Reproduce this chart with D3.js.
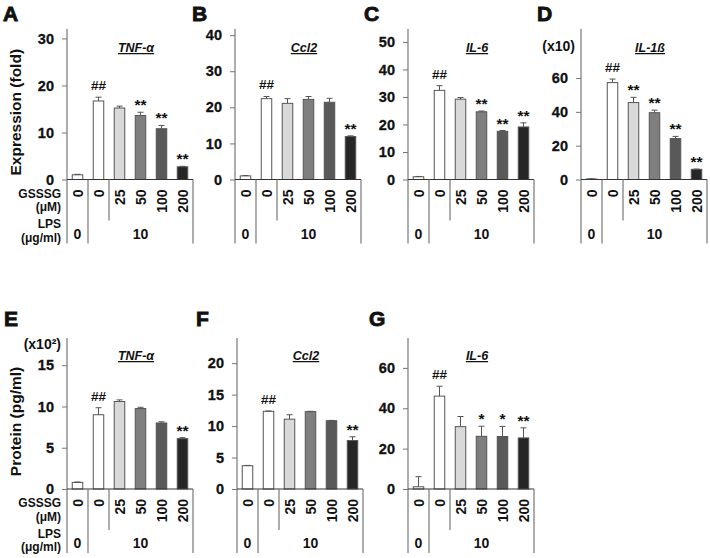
<!DOCTYPE html>
<html><head><meta charset="utf-8">
<script src="https://cdn.jsdelivr.net/npm/d3@7"></script>
<style>
body{margin:0;background:#fff}
text{font-family:"Liberation Sans",Arial,sans-serif;font-weight:bold;fill:#111}
</style>
</head><body>
<svg id="c" width="710" height="558"></svg>
<script>
// ---------- data ----------
const gsssg = ["0", "0", "25", "50", "100", "200"];
const lpsLabels = ["0", "10"];
const barColors = ["#ffffff", "#ffffff", "#d9d9d9", "#7f7f7f", "#595959", "#262626"];

const tnfMean  = [1.0, 16.7, 15.2, 13.6, 10.8, 2.7];
const tnfErr   = [0.1, 0.8, 0.4, 0.7, 0.7, 0.1];
const tnfSig   = ["", "##", "", "**", "**", "**"];
const tnfTicks = [0, 10, 20, 30];

const ccl2Mean  = [1.0, 22.4, 21.1, 22.2, 21.4, 11.9];
const ccl2Err   = [0.1, 0.6, 1.3, 0.8, 1.1, 0.2];
const ccl2Sig   = ["", "##", "", "", "", "**"];
const ccl2Ticks = [0, 10, 20, 30, 40];

const il6Mean  = [1.0, 32.4, 29.2, 24.6, 17.5, 19.1];
const il6Err   = [0.1, 1.7, 0.6, 0.3, 0.3, 1.5];
const il6Sig   = ["", "##", "", "**", "**", "**"];
const il6Ticks = [0, 10, 20, 30, 40, 50];

const il1bMean  = [0.3, 57.3, 45.5, 39.5, 24.2, 6.0];
const il1bErr   = [0.1, 2.1, 3.1, 1.5, 1.3, 0.2];
const il1bSig   = ["", "##", "**", "**", "**", "**"];
const il1bTicks = [0, 20, 40, 60];

const tnfProtMean  = [0.8, 9.0, 10.6, 9.75, 8.0, 6.1];
const tnfProtErr   = [0.05, 0.85, 0.2, 0.15, 0.15, 0.12];
const tnfProtSig   = ["", "##", "", "", "", "**"];
const tnfProtTicks = [0, 5, 10, 15];

const ccl2ProtMean  = [3.7, 12.35, 11.1, 12.3, 10.85, 7.7];
const ccl2ProtErr   = [0.05, 0.05, 0.7, 0.05, 0.05, 0.6];
const ccl2ProtSig   = ["", "##", "", "", "", "**"];
const ccl2ProtTicks = [0, 5, 10, 15, 20];

const il6ProtMean  = [1.1, 46.0, 30.9, 26.1, 26.0, 25.3];
const il6ProtErr   = [5.0, 4.9, 5.0, 5.0, 5.0, 5.0];
const il6ProtSig   = ["", "##", "", "*", "*", "**"];
const il6ProtTicks = [0, 20, 40, 60];

// ---------- layout ----------
const rows = [
  {y0: 179.5, top: 29, letterY: 21, titleY: 52},
  {y0: 489, top: 338, letterY: 326, titleY: 360}
];
const panels = [
  {letter:"A", lx:3,   gene:"TNF-α", mean:tnfMean, err:tnfErr, sig:tnfSig, ticks:tnfTicks, max:32, ax:67, row:0, ylabel:"Expression (fold)", rowLabels:true},
  {letter:"B", lx:192, gene:"Ccl2", mean:ccl2Mean, err:ccl2Err, sig:ccl2Sig, ticks:ccl2Ticks, max:41.7, ax:235, row:0},
  {letter:"C", lx:364, gene:"IL-6", mean:il6Mean, err:il6Err, sig:il6Sig, ticks:il6Ticks, max:54.7, ax:408, row:0},
  {letter:"D", lx:537, gene:"IL-1ß", mean:il1bMean, err:il1bErr, sig:il1bSig, ticks:il1bTicks, max:89, ax:581, row:0, unit:"(x10)", unitY:51},
  {letter:"E", lx:4,   gene:"TNF-α", mean:tnfProtMean, err:tnfProtErr, sig:tnfProtSig, ticks:tnfProtTicks, max:18.3, ax:67, row:1, ylabel:"Protein (pg/ml)", rowLabels:true, unit:"(x10²)", unitY:349},
  {letter:"F", lx:196, gene:"Ccl2", mean:ccl2ProtMean, err:ccl2ProtErr, sig:ccl2ProtSig, ticks:ccl2ProtTicks, max:24, ax:237, row:1},
  {letter:"G", lx:369, gene:"IL-6", mean:il6ProtMean, err:il6ProtErr, sig:il6ProtSig, ticks:il6ProtTicks, max:74.8, ax:408, row:1}
];
const plotW = 126, tableH = 64, midH = 41;

const svg = d3.select("#c");

panels.forEach(p => {
  const r = rows[p.row];
  const g = svg.append("g");
  const idx = d3.range(gsssg.length);
  const x = d3.scaleBand().domain(idx).range([p.ax, p.ax + plotW]).paddingInner(0.5).paddingOuter(0.25);
  const y = d3.scaleLinear().domain([0, p.max]).range([r.y0, r.top]);

  // panel letter
  g.append("text").attr("x", p.lx).attr("y", r.letterY).text(p.letter)
    .style("font-size", "21px").style("stroke", "#111").style("stroke-width", "0.9px");

  // y axis
  const yAxis = d3.axisLeft(y).tickValues(p.ticks).tickSize(5).tickPadding(8).tickFormat(d3.format("d"));
  const ag = g.append("g").attr("transform", `translate(${p.ax},0)`).call(yAxis);
  ag.select(".domain").remove();
  ag.selectAll(".tick line").attr("stroke", "#777");
  ag.selectAll(".tick text").style("font-size", "14.5px").style("font-family", '"Liberation Sans",Arial,sans-serif').style("font-weight", "bold").attr("fill", "#111")
    .style("stroke", "#111").style("stroke-width", "0.3px");
  g.append("line").attr("x1", p.ax).attr("x2", p.ax).attr("y1", r.top).attr("y2", r.y0 + tableH).attr("stroke", "#777").attr("stroke-width", 1.2);

  // bars
  g.selectAll("rect.bar").data(idx).join("rect")
    .attr("x", i => x(i)).attr("width", x.bandwidth())
    .attr("y", i => y(p.mean[i])).attr("height", i => r.y0 - y(p.mean[i]))
    .attr("fill", i => barColors[i]).attr("stroke", "#555").attr("stroke-width", 1);

  // error bars and significance marks
  idx.forEach(i => {
    const cx = x(i) + x.bandwidth() / 2;
    const yt = y(p.mean[i] + p.err[i]);
    g.append("line").attr("x1", cx).attr("x2", cx).attr("y1", y(p.mean[i])).attr("y2", yt).attr("stroke", "#555");
    g.append("line").attr("x1", cx - 3).attr("x2", cx + 3).attr("y1", yt).attr("y2", yt).attr("stroke", "#555");
    if (p.sig[i]) {
      const hash = p.sig[i] === "##";
      g.append("text").attr("x", cx).attr("y", yt - (hash ? 7 : 2))
        .attr("text-anchor", "middle").style("font-size", hash ? "13.5px" : "15.5px").text(p.sig[i]);
    }
  });

  // x axis line
  g.append("line").attr("x1", p.ax).attr("x2", p.ax + plotW).attr("y1", r.y0).attr("y2", r.y0).attr("stroke", "#333").attr("stroke-width", 1.2);

  // table separators
  const bounds = [
    {xx: p.ax + plotW / 6, h: tableH},
    {xx: p.ax + plotW / 3, h: midH},
    {xx: p.ax + plotW, h: tableH}
  ];
  bounds.forEach(b => g.append("line").attr("x1", b.xx).attr("x2", b.xx).attr("y1", r.y0).attr("y2", r.y0 + b.h).attr("stroke", "#777").attr("stroke-width", 1.2));

  // GSSSG labels (rotated)
  idx.forEach(i => {
    const cx = x(i) + x.bandwidth() / 2;
    g.append("text").attr("transform", `translate(${cx + 5},${r.y0 + 10}) rotate(-90)`)
      .attr("text-anchor", "end").style("font-size", "14px").text(gsssg[i]);
  });
  // LPS labels
  g.append("text").attr("x", p.ax + plotW / 12).attr("y", r.y0 + 59).attr("text-anchor", "middle").style("font-size", "14px").text(lpsLabels[0]);
  g.append("text").attr("x", p.ax + plotW / 6 + plotW * 5 / 12).attr("y", r.y0 + 59).attr("text-anchor", "middle").style("font-size", "14px").text(lpsLabels[1]);

  // gene title
  g.append("text").attr("x", p.ax + 69).attr("y", r.titleY).attr("text-anchor", "middle")
    .style("font-size", "12.5px").style("font-style", "italic").style("text-decoration", "underline").text(p.gene);

  // unit label
  if (p.unit) {
    g.append("text").attr("x", p.ax - 6).attr("y", p.unitY).attr("text-anchor", "end").style("font-size", "14px").text(p.unit);
  }

  // y label
  if (p.ylabel) {
    const cy = (r.top + r.y0) / 2 + 8;
    g.append("text").attr("transform", `translate(21,${cy}) rotate(-90)`).attr("text-anchor", "middle")
      .style("font-size", "15.5px").text(p.ylabel);
  }

  // row labels
  if (p.rowLabels) {
    const lbl = [["GSSSG", 18], ["(μM)", 31.5], ["LPS", 48.5], ["(μg/ml)", 62]];
    lbl.forEach(([t, dy]) => g.append("text").attr("x", 61).attr("y", r.y0 + dy).attr("text-anchor", "end").style("font-size", "12px").text(t));
  }
});
</script>
</body></html>
